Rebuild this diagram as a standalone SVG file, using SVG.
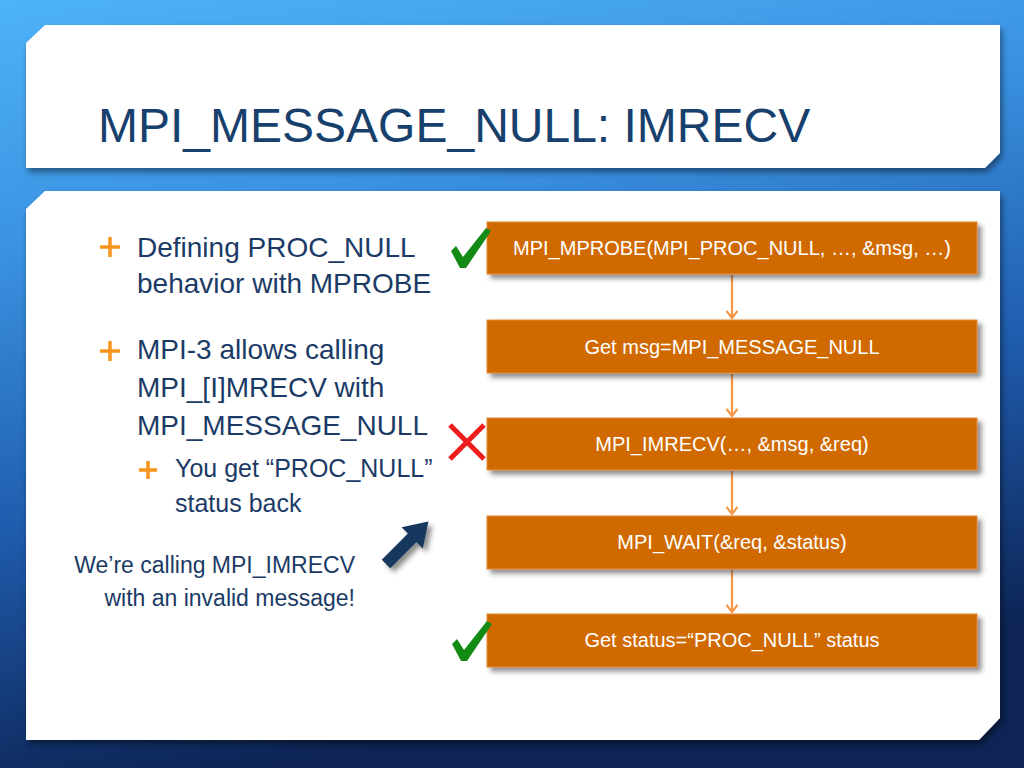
<svg xmlns="http://www.w3.org/2000/svg" xmlns:xlink="http://www.w3.org/1999/xlink" width="1024" height="768" viewBox="0 0 1024 768">
<defs>
<linearGradient id="bg" x1="0" y1="0" x2="0.25" y2="1">
<stop offset="0" stop-color="#4eb3f8"/>
<stop offset="0.3" stop-color="#3b93e2"/>
<stop offset="0.65" stop-color="#1f5cad"/>
<stop offset="1" stop-color="#0d2455"/>
</linearGradient>
<filter id="panelShadow" x="-5%" y="-5%" width="110%" height="115%">
<feDropShadow dx="2" dy="4" stdDeviation="3" flood-color="#000" flood-opacity="0.45"/>
</filter>
<filter id="boxShadow" x="-5%" y="-20%" width="110%" height="150%">
<feDropShadow dx="4" dy="4" stdDeviation="2.5" flood-color="#333" flood-opacity="0.55"/>
</filter>
<marker id="arr" viewBox="0 0 14 14" refX="12" refY="7" markerWidth="14" markerHeight="14" markerUnits="userSpaceOnUse" orient="auto">
<path d="M5,1.5 L12,7 L5,12.5" fill="none" stroke="#f79646" stroke-width="2.2"/>
</marker>
<polygon id="check" points="451,251 456,246 463,257 486,228 491,231 466,268 460,268" fill="#138a13"/>
</defs>
<style>
.panel{fill:#ffffff;filter:url(#panelShadow)}
.title{font-family:"Liberation Sans",Arial,sans-serif;font-size:48px;fill:#17406d}
.body{font-family:"Liberation Sans",Arial,sans-serif;fill:#1b3b66}
.b1{font-size:28px}
.b2{font-size:25px}
.note{font-size:23px}
.plus{stroke:#f7941d;stroke-width:3.5}
.box rect{fill:#d06a02;stroke:#e38a36;stroke-width:1;filter:url(#boxShadow)}
.box text{font-family:"Liberation Sans",Arial,sans-serif;font-size:20px;fill:#ffffff;text-anchor:middle}
.conn{stroke:#f79646;stroke-width:2.2;fill:none;marker-end:url(#arr)}
</style>
<rect width="1024" height="768" fill="url(#bg)"/>
<g id="title-panel">
<polygon class="panel" points="45,25 1000,25 1000,153 985,168 26,168 26,43"/>
<text class="title" x="98" y="142">MPI_MESSAGE_NULL: IMRECV</text>
</g>
<g id="content-panel">
<polygon class="panel" points="45,191 1000,191 1000,718 979,740 26,740 26,209"/>
</g>
<g id="bullets">
<path class="plus" d="M100,247 H120 M110,237 V257"/>
<text class="body b1" x="137" y="257">Defining PROC_NULL</text>
<text class="body b1" x="137" y="293">behavior with MPROBE</text>
<path class="plus" d="M100,351 H120 M110,341 V361"/>
<text class="body b1" x="137" y="359">MPI-3 allows calling</text>
<text class="body b1" x="137" y="397">MPI_[I]MRECV with</text>
<text class="body b1" x="137" y="435">MPI_MESSAGE_NULL</text>
<path class="plus" d="M139,470 H157 M148,461 V479"/>
<text class="body b2" x="175" y="477">You get “PROC_NULL”</text>
<text class="body b2" x="175" y="512">status back</text>
</g>
<g id="note">
<text class="body note" x="355" y="573" text-anchor="end">We’re calling MPI_IMRECV</text>
<text class="body note" x="355" y="606" text-anchor="end">with an invalid message!</text>
<g filter="url(#boxShadow)">
<polygon fill="#17375e" points="0,-6 37,-6 37,-15 60,0 37,15 37,6 0,6" transform="translate(386,564) rotate(-45)"/>
</g>
</g>
<g id="connectors">
<line class="conn" x1="732" y1="275" x2="732" y2="318"/>
<line class="conn" x1="732" y1="374" x2="732" y2="416"/>
<line class="conn" x1="732" y1="471" x2="732" y2="514"/>
<line class="conn" x1="732" y1="570" x2="732" y2="612"/>
</g>
<g id="box1" class="box">
<rect x="487" y="222" width="490" height="52"/>
<text x="732" y="255">MPI_MPROBE(MPI_PROC_NULL, …, &amp;msg, …)</text>
</g>
<g id="box2" class="box">
<rect x="487" y="320" width="490" height="53"/>
<text x="732" y="354">Get msg=MPI_MESSAGE_NULL</text>
</g>
<g id="box3" class="box">
<rect x="487" y="418" width="490" height="52"/>
<text x="732" y="451">MPI_IMRECV(…, &amp;msg, &amp;req)</text>
</g>
<g id="box4" class="box">
<rect x="487" y="516" width="490" height="53"/>
<text x="732" y="549">MPI_WAIT(&amp;req, &amp;status)</text>
</g>
<g id="box5" class="box">
<rect x="487" y="614" width="490" height="53"/>
<text x="732" y="647">Get status=“PROC_NULL” status</text>
</g>
<g id="check1"><use xlink:href="#check"/></g>
<g id="check2"><use xlink:href="#check" transform="translate(1,393)"/></g>
<g id="cross">
<path d="M450,425 L484,459 M484,425 L450,459" stroke="#ee1c1c" stroke-width="5"/>
</g>
</svg>
